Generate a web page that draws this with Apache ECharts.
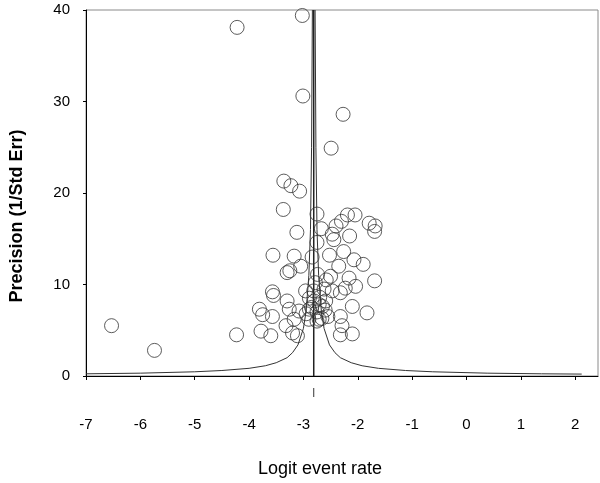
<!DOCTYPE html>
<html>
<head>
<meta charset="utf-8">
<script src="https://cdn.jsdelivr.net/npm/echarts@6/dist/echarts.min.js"></script>
<style>
	html, body { margin: 0; padding: 0; background: #fff; }
	#chart { width: 600px; height: 483px; }
</style>
</head>
<body>
<div id="chart"></div>
<script>
	// study points: logit event rate / precision
	var studyX = [-6.53, -5.74, -4.23, -4.22, -3.02, -3.01, -2.27, -2.49, -3.36, -3.23,
		-3.07, -3.37, -2.75, -3.12, -2.67, -2.47, -2.40, -2.30, -2.19, -2.05,
		-2.15, -1.79, -1.68, -1.69, -2.75, -3.56, -3.17, -2.84, -2.52, -2.26,
		-2.07, -1.90, -3.25, -3.05, -2.35, -2.16, -2.50, -1.69, -2.74, -2.96,
		-2.81, -2.23, -2.44, -3.57, -3.55, -3.30, -3.81, -3.75, -3.57, -3.26,
		-3.08, -3.17, -2.89, -2.89, -2.71, -2.59, -2.47, -2.32, -2.71, -2.90,
		-3.78, -3.60, -3.32, -3.20, -3.11, -2.32, -2.32, -2.10, -1.83, -2.29,
		-2.10, -2.04, -3.30, -2.75, -2.85, -2.75, -2.65, -2.80, -2.70, -2.60,
		-2.95, -2.55, -2.66, -2.62, -2.58, -2.78];
	var studyY = [5.5, 2.8, 4.5, 38.1, 39.4, 30.6, 28.6, 24.9, 21.3, 20.8,
		20.2, 18.2, 17.7, 15.7, 16.1, 15.5, 16.4, 16.9, 17.6, 17.6,
		15.3, 16.7, 16.4, 15.8, 14.6, 13.2, 13.1, 13.0, 13.2, 13.6,
		12.7, 12.2, 11.5, 12.0, 12.0, 10.7, 10.9, 10.4, 11.1, 9.3,
		9.3, 9.6, 14.9, 9.2, 8.8, 8.2, 7.3, 6.7, 6.5, 7.3,
		7.1, 6.2, 8.5, 7.3, 7.8, 8.2, 9.3, 9.1, 6.2, 6.2,
		4.9, 4.4, 5.5, 4.7, 4.4, 6.5, 4.5, 7.6, 6.9, 5.5,
		4.6, 9.8, 11.3, 6.0, 7.5, 7.0, 7.6, 8.2, 8.6, 7.2,
		6.8, 6.5, 6.3, 9.5, 10.5, 10.2];

	// funnel limits
	var funnelX = [-7, -6, -5, -4.5, -4, -3.7, -3.5, -3.3, -3.2, -3.1, -3.0, -2.95, -2.9, -2.87, -2.85, -2.835,
		null,
		-2.785, -2.77, -2.75, -2.72, -2.67, -2.62, -2.52, -2.42, -2.32, -2.12, -1.92, -1.62, -1.12, -0.62, 0.38, 1.38, 2.12];
	var funnelY = [0.24, 0.31, 0.46, 0.6, 0.84, 1.12, 1.45, 2.0, 2.55, 3.4, 5.2, 7.1, 11, 16, 25, 40,
		null,
		40, 25, 16, 11, 7.1, 5.2, 3.4, 2.55, 2.0, 1.45, 1.12, 0.84, 0.6, 0.46, 0.31, 0.24, 0.21];

	var pooledX = -2.81;
	var xTicks = [-7, -6, -5, -4, -3, -2, -1, 0, 1, 2];

	var pts = studyX.map(function (x, i) { return [x, studyY[i]]; });
	var funnel = funnelX.map(function (x, i) { return x === null ? '-' : [x, funnelY[i]]; });

	var chart = echarts.init(document.getElementById('chart'));
	var font = 'Liberation Sans, Arial, sans-serif';

	chart.setOption({
		animation: false,
		grid: {
			left: 84, right: 2, top: 10, bottom: 106,
			show: true, borderColor: '#8a8a8a', borderWidth: 1
		},
		xAxis: {
			type: 'value',
			min: -7, max: 2.42,
			name: 'Logit event rate',
			nameLocation: 'middle',
			nameGap: 84,
			nameTextStyle: { color: '#000', fontSize: 18, fontFamily: font, padding: [0, 44, 0, 0] },
			axisLine: { onZero: false, lineStyle: { color: '#000', width: 1 } },
			axisTick: { show: true, length: 4, customValues: xTicks, lineStyle: { color: '#000' } },
			axisLabel: { customValues: xTicks, margin: 41, color: '#000', fontSize: 15, fontFamily: font },
			splitLine: { show: false }
		},
		yAxis: {
			type: 'value',
			min: 0, max: 40, interval: 10,
			name: 'Precision (1/Std Err)',
			nameLocation: 'middle',
			nameGap: 60,
			nameTextStyle: { color: '#000', fontSize: 18, fontWeight: 'bold', fontFamily: font, padding: [0, 46, 0, 0] },
			axisLine: { show: true, onZero: false, lineStyle: { color: '#000', width: 1 } },
			axisTick: { show: true, length: 3, lineStyle: { color: '#000' } },
			axisLabel: { margin: 16, color: '#000', fontSize: 15, fontFamily: font },
			splitLine: { show: false }
		},
		series: [
			{
				name: 'funnel',
				type: 'line',
				data: funnel,
				showSymbol: false,
				connectNulls: false,
				lineStyle: { color: '#333', width: 1 },
				z: 2
			},
			{
				name: 'pooled',
				type: 'line',
				data: [[pooledX, 0], [pooledX, 40]],
				showSymbol: false,
				lineStyle: { color: '#222', width: 1.5 },
				z: 3
			},
			{
				name: 'studies',
				type: 'scatter',
				data: pts,
				symbol: 'circle',
				symbolSize: 14,
				itemStyle: { color: 'rgba(0,0,0,0)', borderColor: '#333', borderWidth: 1 },
				z: 4
			}
		]
	});

	// small pooled-estimate mark under the axis
	var p = chart.convertToPixel({ gridIndex: 0 }, [pooledX, 0]);
	chart.setOption({
		graphic: [{
			type: 'line',
			shape: { x1: p[0], y1: p[1] + 12, x2: p[0], y2: p[1] + 21 },
			style: { stroke: '#333', lineWidth: 1 }
		}]
	});
</script>
</body>
</html>
